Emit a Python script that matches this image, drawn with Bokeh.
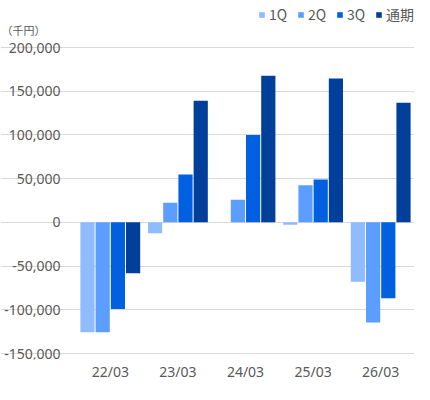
from bokeh.plotting import figure
from bokeh.models import (ColumnDataSource, FixedTicker, NumeralTickFormatter, Label,
                          Legend, LegendItem, Range1d)
from bokeh.transform import dodge
from bokeh.embed import file_html
from bokeh.resources import INLINE

categories = ["22/03", "23/03", "24/03", "25/03", "26/03"]
q1 = [-125700, -12600, 0, -2600, -68000]
q2 = [-125700, 22500, 25800, 42500, -114600]
q3 = [-99100, 54700, 100000, 49100, -86900]
fy = [-58100, 139000, 167700, 164400, 136700]
series_names = ["1Q", "2Q", "3Q", "通期"]
colors = ["#8FBBFF", "#5B9EFF", "#0060DF", "#003F9A"]
y_ticks = [-150000, -100000, -50000, 0, 50000, 100000, 150000, 200000]
unit_text = "（千円）"

xi = list(range(len(categories)))
src = ColumnDataSource(dict(x=xi, cat=categories, q1=q1, q2=q2, q3=q3, fy=fy))

W, H = 414, 384
plot_left = 76                 # pixel column of the value axis
frame_bottom = 359             # pixel row of the frame's bottom edge
top_px, bottom_px = 47, 353    # pixel rows of the top and bottom grid lines
cat_px = (W - plot_left) / len(categories)
x_start = -0.5 - plot_left / cat_px
per_px = (y_ticks[-1] - y_ticks[0]) / (bottom_px - top_px)
y_end = y_ticks[-1] + top_px * per_px
y_start = y_ticks[0] - (frame_bottom - bottom_px) * per_px

p = figure(x_range=Range1d(x_start, len(categories) - 0.5), y_range=Range1d(y_start, y_end),
           width=W, height=H, output_backend="svg", toolbar_location=None,
           min_border_left=0, min_border_right=0, min_border_top=0,
           min_border_bottom=H - frame_bottom)
p.outline_line_color = None
p.border_fill_color = "white"

offsets = [-0.3375, -0.1125, 0.1125, 0.3375]
cols = ["q1", "q2", "q3", "fy"]
renderers = []
for c, off, col in zip(cols, offsets, colors):
    r = p.vbar(x=dodge("x", off), top=c, width=0.21, source=src,
               fill_color=col, line_color=None)
    renderers.append(r)

p.xgrid.grid_line_color = None
p.ygrid.grid_line_color = "#D9D9D9"
p.ygrid.grid_line_width = 1

p.yaxis.ticker = FixedTicker(ticks=y_ticks)
p.yaxis.formatter = NumeralTickFormatter(format="0,0")
p.yaxis.fixed_location = -0.5
p.xaxis.ticker = FixedTicker(ticks=xi)
p.xaxis.major_label_overrides = {i: c for i, c in zip(xi, categories)}
for ax in (p.xaxis[0], p.yaxis[0]):
    ax.axis_line_color = None
    ax.major_tick_line_color = None
    ax.minor_tick_line_color = None
    ax.major_tick_out = 0
    ax.major_tick_in = 0
    ax.minor_tick_out = 0
    ax.minor_tick_in = 0
    ax.major_label_text_font = "Noto Sans"
    ax.major_label_text_font_size = "14px"
    ax.major_label_text_color = "#595959"
p.yaxis.major_label_standoff = 16
p.xaxis.major_label_standoff = 2

legend = Legend(items=[LegendItem(label=n, renderers=[r]) for n, r in zip(series_names, renderers)],
                orientation="horizontal", location=(258, frame_bottom - 24),
                glyph_width=7, glyph_height=7, label_standoff=4, spacing=8,
                padding=0, margin=0, border_line_color=None, background_fill_alpha=0,
                label_text_font="Noto Sans CJK JP", label_text_font_size="14px",
                label_text_color="#595959")
p.add_layout(legend, "center")

unit = Label(x=1, y=frame_bottom - 29, x_units="screen", y_units="screen", text=unit_text,
             text_font="Noto Sans CJK JP", text_font_size="11px", text_color="#595959",
             text_baseline="middle", text_align="left")
p.add_layout(unit)

open("out.html", "w").write(file_html(p, INLINE))
